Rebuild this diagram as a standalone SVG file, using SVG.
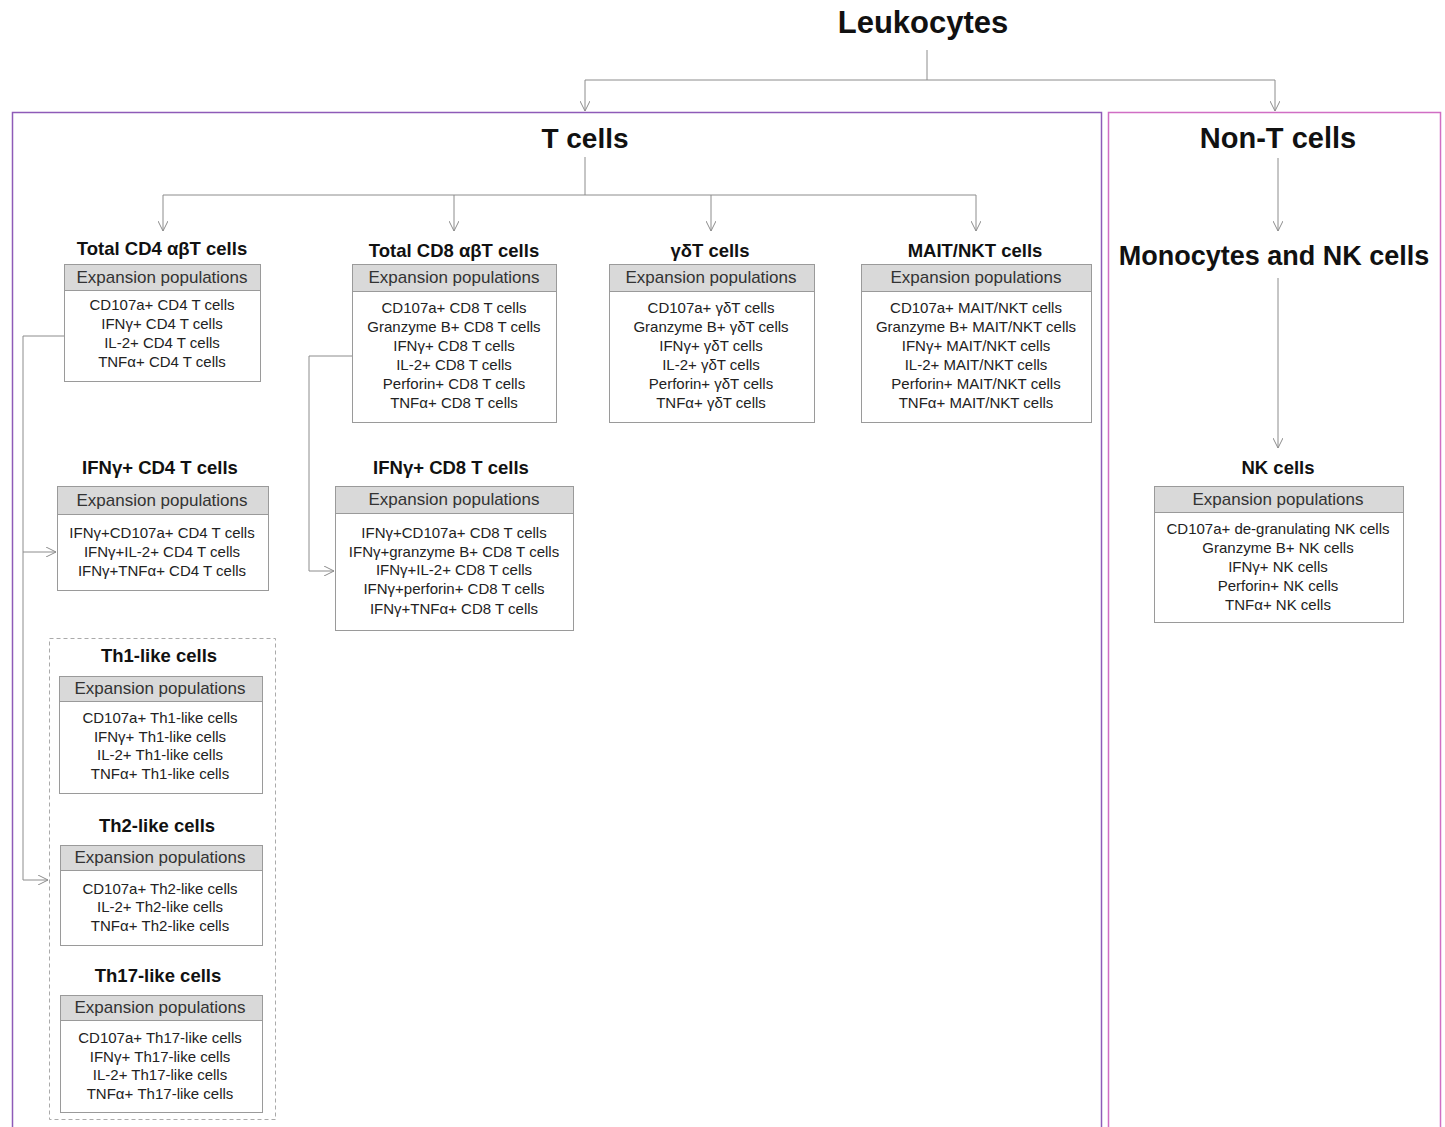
<svg xmlns="http://www.w3.org/2000/svg" width="1445" height="1127" viewBox="0 0 1445 1127">
<style>
text{font-family:"Liberation Sans",Arial,sans-serif;text-anchor:middle}
.h1{font-size:31px;font-weight:bold;fill:#111}
.h2{font-size:28px;font-weight:bold;fill:#111}
.h2b{font-size:29px;font-weight:bold;fill:#111}
.h3{font-size:27px;font-weight:bold;fill:#111}
.t{font-size:18.5px;font-weight:bold;fill:#111}
.hd{fill:#d9d9d9;stroke:#9a9a9a;stroke-width:1}
.bd{fill:#fff;stroke:#9a9a9a;stroke-width:1}
.ht{font-size:17px;fill:#333}
.r{font-size:15px;fill:#222}
.c{fill:none;stroke:#8c8c8c;stroke-width:1}
</style>
<defs>
<marker id="ar" viewBox="0 0 10 10" refX="10" refY="5" markerWidth="10" markerHeight="10" markerUnits="userSpaceOnUse" orient="auto">
<path d="M0,0 L10,5 L0,10" fill="none" stroke="#8c8c8c" stroke-width="1"/>
</marker>
</defs>
<rect width="1445" height="1127" fill="#fff"/>

<g id="containers">
<rect x="12.5" y="112.5" width="1089" height="1030" fill="none" stroke="#8e5bb8" stroke-width="1.5"/>
<rect x="1108.5" y="112.5" width="332" height="1030" fill="none" stroke="#d06ec4" stroke-width="1.5"/>
<rect x="49.5" y="638.5" width="226" height="481" fill="none" stroke="#aaaaaa" stroke-width="1" stroke-dasharray="4,3"/>
</g>

<g id="connectors">
<path class="c" d="M927,50 V80"/>
<path class="c" d="M585,80 H1275"/>
<path class="c" d="M585,80 V111" marker-end="url(#ar)"/>
<path class="c" d="M1275,80 V111" marker-end="url(#ar)"/>
<path class="c" d="M585,157 V195"/>
<path class="c" d="M163,195 H976"/>
<path class="c" d="M163,195 V231" marker-end="url(#ar)"/>
<path class="c" d="M454,195 V231" marker-end="url(#ar)"/>
<path class="c" d="M711,195 V231" marker-end="url(#ar)"/>
<path class="c" d="M976,195 V231" marker-end="url(#ar)"/>
<path class="c" d="M1278,158 V231" marker-end="url(#ar)"/>
<path class="c" d="M1278,278 V448" marker-end="url(#ar)"/>
<path class="c" d="M64,336 H23 V880 H48" marker-end="url(#ar)"/>
<path class="c" d="M23,552 H56" marker-end="url(#ar)"/>
<path class="c" d="M352,356 H309 V571 H334" marker-end="url(#ar)"/>
</g>

<g id="leukocytes"><text class="h1" x="923" y="33">Leukocytes</text></g>
<g id="t-cells"><text class="h2" x="585" y="148">T cells</text></g>
<g id="non-t-cells"><text class="h2b" x="1278" y="148">Non-T cells</text></g>
<g id="monocytes-nk"><text class="h3" x="1274" y="265">Monocytes and NK cells</text></g>

<g id="total-cd4">
<text class="t" x="162" y="255">Total CD4 αβT cells</text>
<rect class="hd" x="64.5" y="264.5" width="196" height="26"/>
<rect class="bd" x="64.5" y="290.5" width="196" height="91"/>
<text class="ht" x="162" y="283">Expansion populations</text>
<text class="r" x="162" y="310">CD107a+ CD4 T cells</text>
<text class="r" x="162" y="329">IFNγ+ CD4 T cells</text>
<text class="r" x="162" y="348">IL-2+ CD4 T cells</text>
<text class="r" x="162" y="367">TNFα+ CD4 T cells</text>
</g>

<g id="total-cd8">
<text class="t" x="454" y="257">Total CD8 αβT cells</text>
<rect class="hd" x="352.5" y="264.5" width="204" height="27"/>
<rect class="bd" x="352.5" y="291.5" width="204" height="131"/>
<text class="ht" x="454" y="283">Expansion populations</text>
<text class="r" x="454" y="313">CD107a+ CD8 T cells</text>
<text class="r" x="454" y="332">Granzyme B+ CD8 T cells</text>
<text class="r" x="454" y="351">IFNγ+ CD8 T cells</text>
<text class="r" x="454" y="370">IL-2+ CD8 T cells</text>
<text class="r" x="454" y="389">Perforin+ CD8 T cells</text>
<text class="r" x="454" y="408">TNFα+ CD8 T cells</text>
</g>

<g id="gd-t">
<text class="t" x="710" y="257">γδT cells</text>
<rect class="hd" x="609.5" y="264.5" width="205" height="27"/>
<rect class="bd" x="609.5" y="291.5" width="205" height="131"/>
<text class="ht" x="711" y="283">Expansion populations</text>
<text class="r" x="711" y="313">CD107a+ γδT cells</text>
<text class="r" x="711" y="332">Granzyme B+ γδT cells</text>
<text class="r" x="711" y="351">IFNγ+ γδT cells</text>
<text class="r" x="711" y="370">IL-2+ γδT cells</text>
<text class="r" x="711" y="389">Perforin+ γδT cells</text>
<text class="r" x="711" y="408">TNFα+ γδT cells</text>
</g>

<g id="mait-nkt">
<text class="t" x="975" y="257">MAIT/NKT cells</text>
<rect class="hd" x="861.5" y="264.5" width="230" height="27"/>
<rect class="bd" x="861.5" y="291.5" width="230" height="131"/>
<text class="ht" x="976" y="283">Expansion populations</text>
<text class="r" x="976" y="313">CD107a+ MAIT/NKT cells</text>
<text class="r" x="976" y="332">Granzyme B+ MAIT/NKT cells</text>
<text class="r" x="976" y="351">IFNγ+ MAIT/NKT cells</text>
<text class="r" x="976" y="370">IL-2+ MAIT/NKT cells</text>
<text class="r" x="976" y="389">Perforin+ MAIT/NKT cells</text>
<text class="r" x="976" y="408">TNFα+ MAIT/NKT cells</text>
</g>

<g id="nk-cells">
<text class="t" x="1278" y="474">NK cells</text>
<rect class="hd" x="1154.5" y="486.5" width="249" height="26"/>
<rect class="bd" x="1154.5" y="512.5" width="249" height="110"/>
<text class="ht" x="1278" y="505">Expansion populations</text>
<text class="r" x="1278" y="534">CD107a+ de-granulating NK cells</text>
<text class="r" x="1278" y="553">Granzyme B+ NK cells</text>
<text class="r" x="1278" y="572">IFNγ+ NK cells</text>
<text class="r" x="1278" y="591">Perforin+ NK cells</text>
<text class="r" x="1278" y="610">TNFα+ NK cells</text>
</g>

<g id="ifng-cd4">
<text class="t" x="160" y="474">IFNγ+ CD4 T cells</text>
<rect class="hd" x="57.5" y="486.5" width="211" height="28"/>
<rect class="bd" x="57.5" y="514.5" width="211" height="76"/>
<text class="ht" x="162" y="506">Expansion populations</text>
<text class="r" x="162" y="538">IFNγ+CD107a+ CD4 T cells</text>
<text class="r" x="162" y="557">IFNγ+IL-2+ CD4 T cells</text>
<text class="r" x="162" y="576">IFNγ+TNFα+ CD4 T cells</text>
</g>

<g id="ifng-cd8">
<text class="t" x="451" y="474">IFNγ+ CD8 T cells</text>
<rect class="hd" x="335.5" y="486.5" width="238" height="27"/>
<rect class="bd" x="335.5" y="513.5" width="238" height="117"/>
<text class="ht" x="454" y="505">Expansion populations</text>
<text class="r" x="454" y="538">IFNγ+CD107a+ CD8 T cells</text>
<text class="r" x="454" y="557">IFNγ+granzyme B+ CD8 T cells</text>
<text class="r" x="454" y="575">IFNγ+IL-2+ CD8 T cells</text>
<text class="r" x="454" y="594">IFNγ+perforin+ CD8 T cells</text>
<text class="r" x="454" y="614">IFNγ+TNFα+ CD8 T cells</text>
</g>

<g id="th1-like">
<text class="t" x="159" y="662">Th1-like cells</text>
<rect class="hd" x="59.5" y="676.5" width="203" height="25"/>
<rect class="bd" x="59.5" y="701.5" width="203" height="92"/>
<text class="ht" x="160" y="694">Expansion populations</text>
<text class="r" x="160" y="723">CD107a+ Th1-like cells</text>
<text class="r" x="160" y="742">IFNγ+ Th1-like cells</text>
<text class="r" x="160" y="760">IL-2+ Th1-like cells</text>
<text class="r" x="160" y="779">TNFα+ Th1-like cells</text>
</g>

<g id="th2-like">
<text class="t" x="157" y="832">Th2-like cells</text>
<rect class="hd" x="60.5" y="845.5" width="202" height="25"/>
<rect class="bd" x="60.5" y="870.5" width="202" height="75"/>
<text class="ht" x="160" y="863">Expansion populations</text>
<text class="r" x="160" y="894">CD107a+ Th2-like cells</text>
<text class="r" x="160" y="912">IL-2+ Th2-like cells</text>
<text class="r" x="160" y="931">TNFα+ Th2-like cells</text>
</g>

<g id="th17-like">
<text class="t" x="158" y="982">Th17-like cells</text>
<rect class="hd" x="60.5" y="995.5" width="202" height="25"/>
<rect class="bd" x="60.5" y="1020.5" width="202" height="92"/>
<text class="ht" x="160" y="1013">Expansion populations</text>
<text class="r" x="160" y="1043">CD107a+ Th17-like cells</text>
<text class="r" x="160" y="1062">IFNγ+ Th17-like cells</text>
<text class="r" x="160" y="1080">IL-2+ Th17-like cells</text>
<text class="r" x="160" y="1099">TNFα+ Th17-like cells</text>
</g>
</svg>
